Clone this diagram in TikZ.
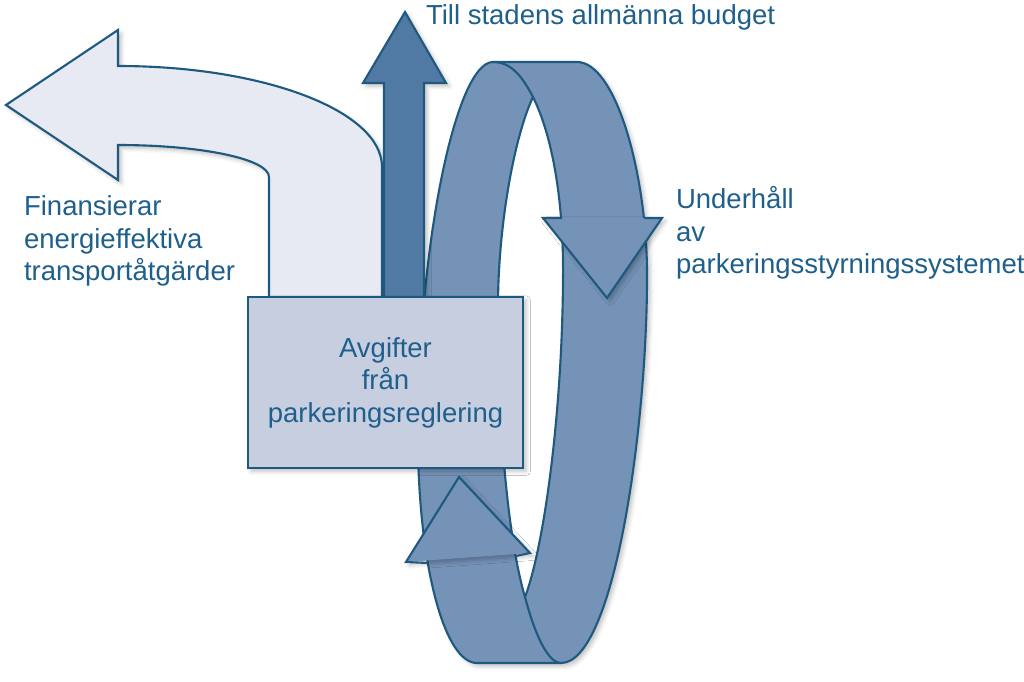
\documentclass[tikz,border=0pt]{standalone}
\usepackage{fontspec}
\setmainfont{Liberation Sans}
\usepackage{xcolor}
\usetikzlibrary{shadows.blur}

\definecolor{edgeblue}{HTML}{1E5A80}
\definecolor{textblue}{HTML}{1F5F8B}
\definecolor{ringblue}{HTML}{7592B7}
\definecolor{darkblue}{HTML}{5079A4}
\definecolor{paleblue}{HTML}{E7EAF2}
\definecolor{boxblue}{HTML}{C7CEE0}
\newcommand{\diagfont}{\fontsize{7.82}{9.25}\selectfont}

\begin{document}
\begin{tikzpicture}[x=0.01cm, y=-0.01cm, line width=0.6pt, draw=edgeblue,
    soft/.style={blur shadow={shadow xshift=0.9pt, shadow yshift=-0.9pt, shadow blur radius=1.2pt, shadow opacity=25}},
    lbl/.style={text=textblue, inner sep=0pt, align=left, font=\diagfont},
    feebox/.style={draw=edgeblue, fill=boxblue, minimum width=2.75cm, minimum height=1.71cm,
        text=textblue, align=center, font=\diagfont, inner sep=0pt}]
    \useasboundingbox (0,0) rectangle (1024,682);

    % Ring points
    \coordinate (t1) at (493,62);
    \coordinate (t2) at (577,62);
    \coordinate (b1) at (477,663);
    \coordinate (b2) at (561,663);
    \coordinate (h1) at (533,97);
    \coordinate (h2) at (525,597);
    \coordinate (e1) at (563,280);
    \coordinate (e2) at (647,270);
    \coordinate (w1) at (418,450);
    \coordinate (w2) at (498,300);

    % Ring body
    \filldraw[fill=ringblue, soft] (t1) -- (t2) .. controls (615,62) and (646,170) .. (e2)
        .. controls (648,420) and (615,663) .. (b2) -- (b1)
        .. controls (445,663) and (420,570) .. (w1)
        .. controls (416,255) and (455,62) .. (t1) -- cycle;
    \fill[white] (h1) .. controls (515,135) and (499,220) .. (w2)
        .. controls (497,420) and (508,540) .. (h2)
        .. controls (543,550) and (562,420) .. (e1)
        .. controls (564,200) and (552,135) .. (h1) -- cycle;
    \draw (t1) .. controls (512,62) and (523,78) .. (h1) .. controls (552,135) and (564,200) .. (e1)
        .. controls (562,420) and (543,550) .. (h2);
    \draw (h1) .. controls (515,135) and (499,220) .. (w2) .. controls (497,420) and (508,540) .. (h2)
        .. controls (535,635) and (548,663) .. (b2);

    % Ring arrow heads
    \fill[ringblue, soft] (543,218) -- (662,218) -- (607,298) -- cycle;
    \draw (562,218) -- (543,218) -- (607,298) -- (662,218) -- (644,218);
    \fill[ringblue, soft] (406,562) -- (459,477) -- (530,553) -- cycle;
    \draw (428,563) -- (406,562) -- (459,477) -- (530,553) -- (516,556);

    % Bent arrow to the left
    \filldraw[fill=paleblue, soft] (6,105) -- (118,30) -- (118,66)
        .. controls (264,66) and (382,111) .. (382,167) -- (382,300) -- (269,300) -- (269,177)
        .. controls (269,159) and (201,145) .. (118,145) -- (118,180) -- cycle;

    % Arrow up
    \filldraw[fill=darkblue, soft] (384,300) -- (384,83) -- (363,83) -- (405,12) -- (446,83)
        -- (424,83) -- (424,300) -- cycle;

    % Box and labels
    \node[feebox, soft] (fees) at (385.5,382.5) {Avgifter\\från\\parkeringsreglering};
    \node[lbl, anchor=base west] (budget) at (425,25) {Till stadens allmänna budget};
    \node[lbl, anchor=base west] (upkeep) at (675,274) {Underhåll\\av\\parkeringsstyrningssystemet};
    \node[lbl, anchor=base west] (finance) at (23,281) {Finansierar\\energieffektiva\\transportåtgärder};
\end{tikzpicture}
\end{document}
